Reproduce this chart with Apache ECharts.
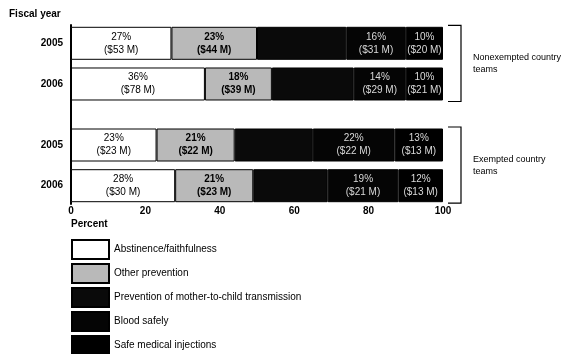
<!DOCTYPE html>
<html>
<head>
<meta charset="utf-8">
<script src="https://cdn.jsdelivr.net/npm/echarts@6/dist/echarts.min.js"></script>
<style>
html,body{margin:0;padding:0;background:#fff;}
#chart{width:569px;height:354px;}
</style>
</head>
<body>
<div id="chart"></div>
<script>
// ---- Data ----
const fiscalYears = ['2005', '2006', '2005', '2006'];
const groupNames = ['Nonexempted country\nteams', 'Exempted country\nteams'];
const seriesNames = ['Abstinence/faithfulness', 'Other prevention', 'Prevention of mother-to-child transmission', 'Blood safely', 'Safe medical injections'];
const abstinencePct = [27, 36, 23, 28];
const abstinenceAmt = [53, 78, 23, 30];
const otherPct = [23, 18, 21, 21];
const otherAmt = [44, 39, 22, 23];
const pmtctPct = [24, 22, 21, 20];
const bloodPct = [16, 14, 22, 19];
const bloodAmt = [31, 29, 22, 21];
const injectPct = [10, 10, 13, 12];
const injectAmt = [20, 21, 13, 13];
const xTicks = [0, 20, 40, 60, 80, 100];

// ---- Layout (row slots on a fine category axis) ----
const SLOT_COUNT = 44;
const ROW_SLOTS = [4, 14, 29, 39];
const slotNames = Array.from({length: SLOT_COUNT}, (_, i) => 's' + i);
const rowAtSlot = {};
ROW_SLOTS.forEach((s, r) => { rowAtSlot[s] = r; });
function padded(arr) {
  return slotNames.map((_, i) => rowAtSlot[i] !== undefined ? arr[rowAtSlot[i]] : null);
}
const FONT = '"Liberation Sans", Arial, Helvetica, sans-serif';
const BAR_W = 33;

function labelFor(pcts, amts, color, weight) {
  return {
    show: true,
    position: 'inside',
    color: color,
    fontFamily: FONT,
    fontSize: 10,
    fontWeight: weight,
    lineHeight: 13,
    formatter: p => {
      const r = rowAtSlot[p.dataIndex];
      return pcts[r] + '%\n($' + amts[r] + ' M)';
    }
  };
}

function makeSeries(name, pcts, color, label) {
  return {
    name: name,
    type: 'bar',
    stack: 'total',
    barWidth: BAR_W,
    data: padded(pcts),
    itemStyle: {color: color, borderColor: '#000', borderWidth: 1},
    label: label || {show: false},
    emphasis: {disabled: true}
  };
}

const chart = echarts.init(document.getElementById('chart'), null, {renderer: 'canvas'});
const option = {
  animation: false,
  backgroundColor: '#fff',
  title: [
    {text: 'Fiscal year', left: 9, top: 9, padding: 0,
     textStyle: {fontFamily: FONT, fontSize: 10, fontWeight: 'bold', color: '#000'}},
    {text: 'Percent', left: 71, top: 219, padding: 0,
     textStyle: {fontFamily: FONT, fontSize: 10, fontWeight: 'bold', color: '#000'}}
  ],
  grid: {left: 71, right: 126, top: 25, bottom: 150, containLabel: false},
  xAxis: {
    type: 'value', min: 0, max: 100, interval: 20,
    axisLine: {show: false}, axisTick: {show: false}, splitLine: {show: false},
    axisLabel: {fontFamily: FONT, fontSize: 10, fontWeight: 'bold', color: '#000', margin: 2,
      formatter: v => xTicks.indexOf(v) >= 0 ? String(v) : ''}
  },
  yAxis: {
    type: 'category', inverse: true, data: slotNames,
    axisLine: {show: true, lineStyle: {color: '#000', width: 2}},
    axisTick: {show: false},
    axisLabel: {interval: 0, margin: 8, fontFamily: FONT, fontSize: 10, fontWeight: 'bold', color: '#000',
      formatter: (v, i) => rowAtSlot[i] !== undefined ? fiscalYears[rowAtSlot[i]] : ''}
  },
  legend: {
    orient: 'vertical', left: 71, top: 239, width: 300, height: 150,
    itemWidth: 37, itemHeight: 19, itemGap: 3,
    icon: 'rect', selectedMode: false, padding: 0,
    textStyle: {fontFamily: FONT, fontSize: 10, color: '#000'},
    data: seriesNames
  },
  series: [
    makeSeries(seriesNames[0], abstinencePct, '#ffffff', labelFor(abstinencePct, abstinenceAmt, '#000', 'normal')),
    makeSeries(seriesNames[1], otherPct, '#b9b9b9', labelFor(otherPct, otherAmt, '#000', 'bold')),
    makeSeries(seriesNames[2], pmtctPct, '#0a0a0a'),
    makeSeries(seriesNames[3], bloodPct, '#050505', labelFor(bloodPct, bloodAmt, '#d9d9d9', 'normal')),
    makeSeries(seriesNames[4], injectPct, '#000000', labelFor(injectPct, injectAmt, '#d9d9d9', 'normal'))
  ]
};
chart.setOption(option);

// ---- Group brackets, positioned from the axes ----
function bracket(rowA, rowB, text) {
  const right = chart.convertToPixel({gridIndex: 0}, [100, ROW_SLOTS[rowA]])[0];
  const yTop = chart.convertToPixel({gridIndex: 0}, [100, ROW_SLOTS[rowA]])[1] - BAR_W / 2 - 1.5;
  const yBot = chart.convertToPixel({gridIndex: 0}, [100, ROW_SLOTS[rowB]])[1] + BAR_W / 2 + 1;
  const bx = right + 18;
  return [
    {type: 'polyline', silent: true,
     shape: {points: [[bx - 13, yTop], [bx, yTop], [bx, yBot], [bx - 13, yBot]]},
     style: {stroke: '#000', lineWidth: 1.2, fill: null}},
    {type: 'text', silent: true,
     style: {text: text, x: bx + 12, y: (yTop + yBot) / 2, verticalAlign: 'middle', align: 'left',
             font: '9px ' + FONT, fill: '#000', lineHeight: 12}}
  ];
}
chart.setOption({graphic: [].concat(bracket(0, 1, groupNames[0]), bracket(2, 3, groupNames[1]))});
</script>
</body>
</html>
